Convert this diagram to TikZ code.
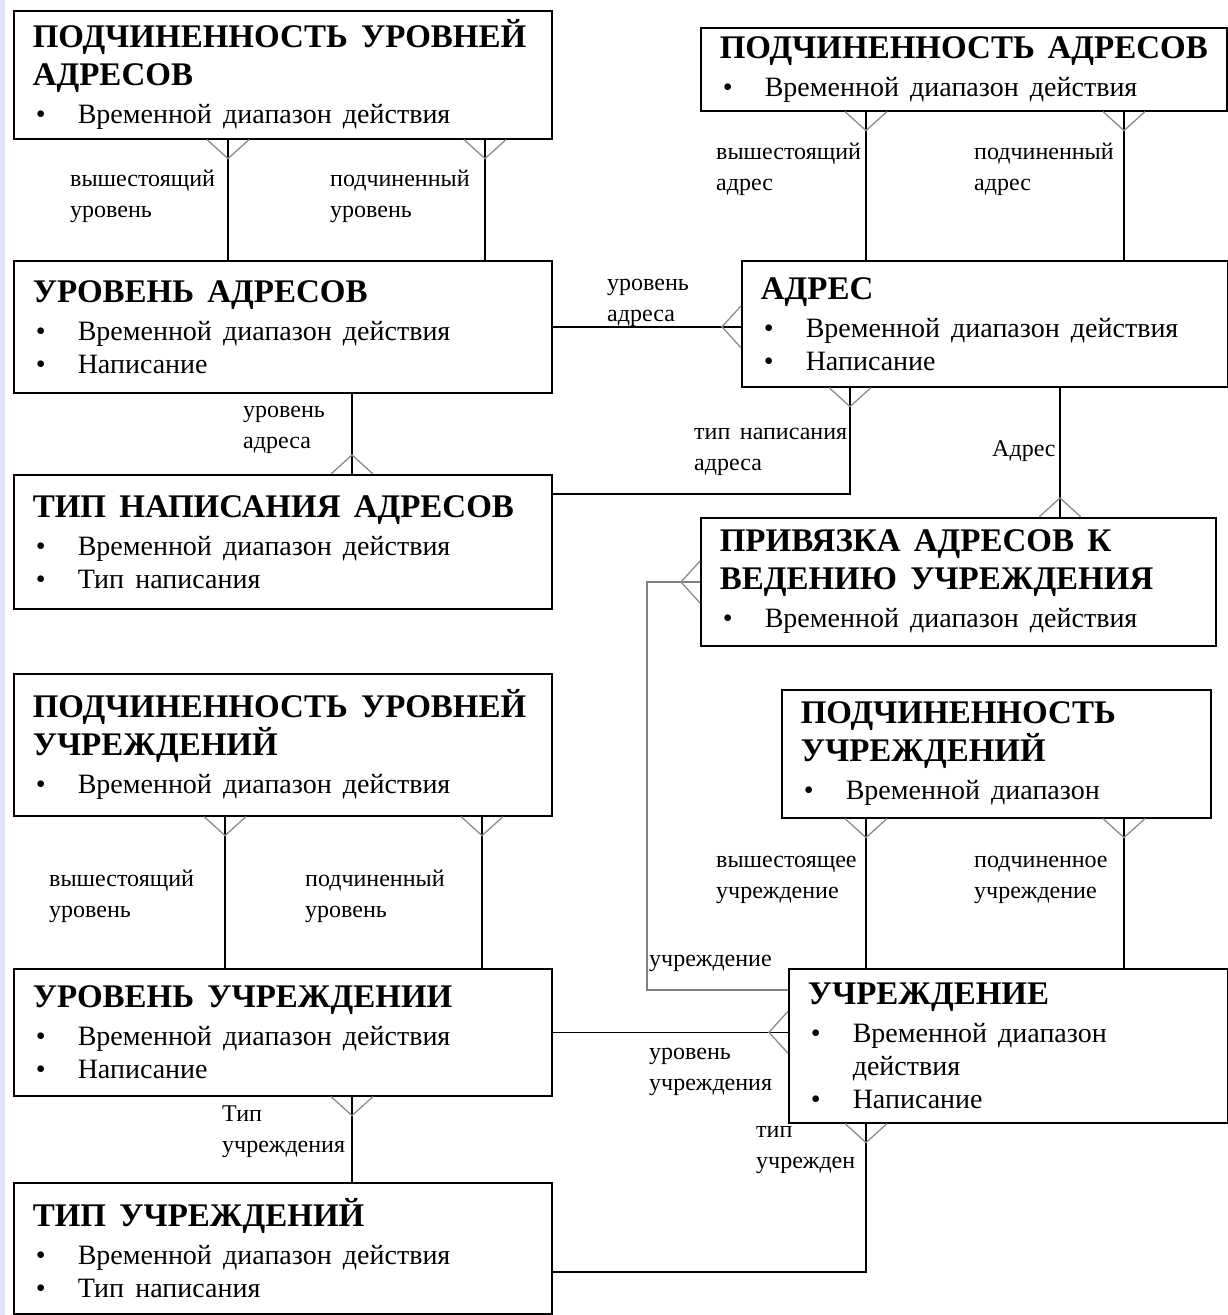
\documentclass[tikz,border=0pt]{standalone}
\usepackage{fontspec}
\setmainfont{Liberation Serif}[WordSpace=1.6]
\usepackage{xcolor}
\usepackage{tikz}

\setlength{\parindent}{0pt}
\newcommand{\head}[1]{{\bfseries\fontsize{33}{38}\selectfont #1\par}\vspace{5pt}}
\newcommand{\attr}[1]{{\fontsize{28}{33}\selectfont\hangindent=45pt\hangafter=1\makebox[45pt][l]{\hspace{3pt}•}#1\par}}

\begin{document}
\begin{tikzpicture}[
	x=1pt, y=-1pt,
	entity/.style={draw, line width=1.6pt, anchor=north west, align=flush left, inner xsep=19pt, inner ysep=0pt, fill=white},
	link/.style={draw, line width=1.4pt},
	grey link/.style={link, draw=black!50},
	role/.style={anchor=north west, inner sep=0pt, align=left, font=\fontsize{24}{31}\selectfont},
	foot/.style={draw=black!45, line width=1.3pt},
	crowfoot/.pic={\draw[foot] (-21,0) -- (0,19) -- (21,0);}
	]
	\useasboundingbox (0,0) rectangle (1228,1315);
	\fill[white] (0,0) rectangle (1228,1315);
	\fill[blue!12] (0,0) rectangle (5,1315);

	\node[entity, text width=500pt, minimum height=128pt] (pua) at (13,10) {\head{ПОДЧИНЕННОСТЬ УРОВНЕЙ\\АДРЕСОВ}\attr{Временной диапазон действия}};
	\node[entity, text width=500pt, minimum height=132pt] (ua) at (13,260) {\head{УРОВЕНЬ АДРЕСОВ}\attr{Временной диапазон действия}\attr{Написание}};
	\node[entity, text width=500pt, minimum height=134pt] (tna) at (13,474) {\head{ТИП НАПИСАНИЯ АДРЕСОВ}\attr{Временной диапазон действия}\attr{Тип написания}};
	\node[entity, text width=488pt, minimum height=83pt] (pa) at (700,27) {\head{ПОДЧИНЕННОСТЬ АДРЕСОВ}\attr{Временной диапазон действия}};
	\node[entity, text width=448pt, minimum height=126pt] (adr) at (741,260) {\head{АДРЕС}\attr{Временной диапазон действия}\attr{Написание}};
	\node[entity, text width=477pt, minimum height=128pt] (priv) at (700,517) {\head{ПРИВЯЗКА АДРЕСОВ К\\ВЕДЕНИЮ УЧРЕЖДЕНИЯ}\attr{Временной диапазон действия}};
	\node[entity, text width=500pt, minimum height=142pt] (puy) at (13,673) {\head{ПОДЧИНЕННОСТЬ УРОВНЕЙ\\УЧРЕЖДЕНИЙ}\attr{Временной диапазон действия}};
	\node[entity, text width=391pt, minimum height=128pt] (pu) at (781,689) {\head{ПОДЧИНЕННОСТЬ\\УЧРЕЖДЕНИЙ}\attr{Временной диапазон}};
	\node[entity, text width=500pt, minimum height=127pt] (ul) at (13,968) {\head{УРОВЕНЬ УЧРЕЖДЕНИИ}\attr{Временной диапазон действия}\attr{Написание}};
	\node[entity, text width=401pt, minimum height=154pt] (u) at (788,968) {\head{УЧРЕЖДЕНИЕ}\attr{Временной диапазон\newline действия}\attr{Написание}};
	\node[entity, text width=500pt, minimum height=131pt] (tu) at (13,1182) {\head{ТИП УЧРЕЖДЕНИЙ}\attr{Временной диапазон действия}\attr{Тип написания}};

	\node[role] (upper level a) at (70,170) {вышестоящий\\уровень};
	\node[role] (lower level a) at (330,170) {подчиненный\\уровень};
	\node[role] (level adr1) at (243,406) {уровень\\адреса};
	\node[role] (level adr2) at (607,279) {уровень\\адреса};
	\node[role] (upper adr) at (716,143) {вышестоящий\\адрес};
	\node[role] (lower adr) at (974,143) {подчиненный\\адрес};
	\node[role] (type adr) at (694,428) {тип написания\\адреса};
	\node[role] (adr role) at (992,440) {Адрес};
	\node[role] (upper inst) at (716,856) {вышестоящее\\учреждение};
	\node[role] (lower inst) at (974,856) {подчиненное\\учреждение};
	\node[role] (inst role) at (649,955) {учреждение};
	\node[role] (upper level i) at (49,870) {вышестоящий\\уровень};
	\node[role] (lower level i) at (305,870) {подчиненный\\уровень};
	\node[role] (level inst) at (649,1048) {уровень\\учреждения};
	\node[role] (type inst1) at (222,1106) {Тип\\учреждения};
	\node[role] (type inst2) at (756,1126) {тип\\учрежден};

	\draw[link] ([xshift=215pt]pua.south west) -- ([xshift=215pt]ua.north west);
	\draw[link] ([xshift=472pt]pua.south west) -- ([xshift=472pt]ua.north west);
	\draw[link] ([xshift=339pt]ua.south west) -- ([xshift=339pt]tna.north west);
	\draw[link] (ua.east) -- (ua.east -| adr.west);
	\draw[link] ([xshift=166pt]pa.south west) -- ([xshift=125pt]adr.north west);
	\draw[link] ([xshift=424pt]pa.south west) -- ([xshift=383pt]adr.north west);
	\draw[link] ([xshift=109pt]adr.south west) |- ([yshift=-20pt]tna.north east);
	\draw[link] ([xshift=319pt]adr.south west) -- ([xshift=360pt]priv.north west);
	\draw[grey link] ([yshift=-65pt]priv.north west) -- ++(-53,0) |- ([yshift=-22pt]u.north west);
	\draw[link] ([xshift=212pt]puy.south west) -- ([xshift=212pt]ul.north west);
	\draw[link] ([xshift=469pt]puy.south west) -- ([xshift=469pt]ul.north west);
	\draw[link] ([xshift=85pt]pu.south west) -- ([xshift=78pt]u.north west);
	\draw[link] ([xshift=343pt]pu.south west) -- ([xshift=336pt]u.north west);
	\draw[link] (ul.east) -- (ul.east -| u.west);
	\draw[link] ([xshift=339pt]ul.south west) -- ([xshift=339pt]tu.north west);
	\draw[link] ([xshift=78pt]u.south west) |- ([yshift=-90pt]tu.north east);

	\pic at ([xshift=215pt]pua.south west) {crowfoot};
	\pic at ([xshift=472pt]pua.south west) {crowfoot};
	\pic[rotate=180] at ([xshift=339pt]tna.north west) {crowfoot};
	\pic[rotate=-90] at (ua.east -| adr.west) {crowfoot};
	\pic at ([xshift=166pt]pa.south west) {crowfoot};
	\pic at ([xshift=424pt]pa.south west) {crowfoot};
	\pic at ([xshift=109pt]adr.south west) {crowfoot};
	\pic[rotate=180] at ([xshift=360pt]priv.north west) {crowfoot};
	\pic[rotate=-90] at ([yshift=-65pt]priv.north west) {crowfoot};
	\pic at ([xshift=212pt]puy.south west) {crowfoot};
	\pic at ([xshift=469pt]puy.south west) {crowfoot};
	\pic at ([xshift=85pt]pu.south west) {crowfoot};
	\pic at ([xshift=343pt]pu.south west) {crowfoot};
	\pic[rotate=-90] at (ul.east -| u.west) {crowfoot};
	\pic at ([xshift=339pt]ul.south west) {crowfoot};
	\pic at ([xshift=78pt]u.south west) {crowfoot};
\end{tikzpicture}
\end{document}
